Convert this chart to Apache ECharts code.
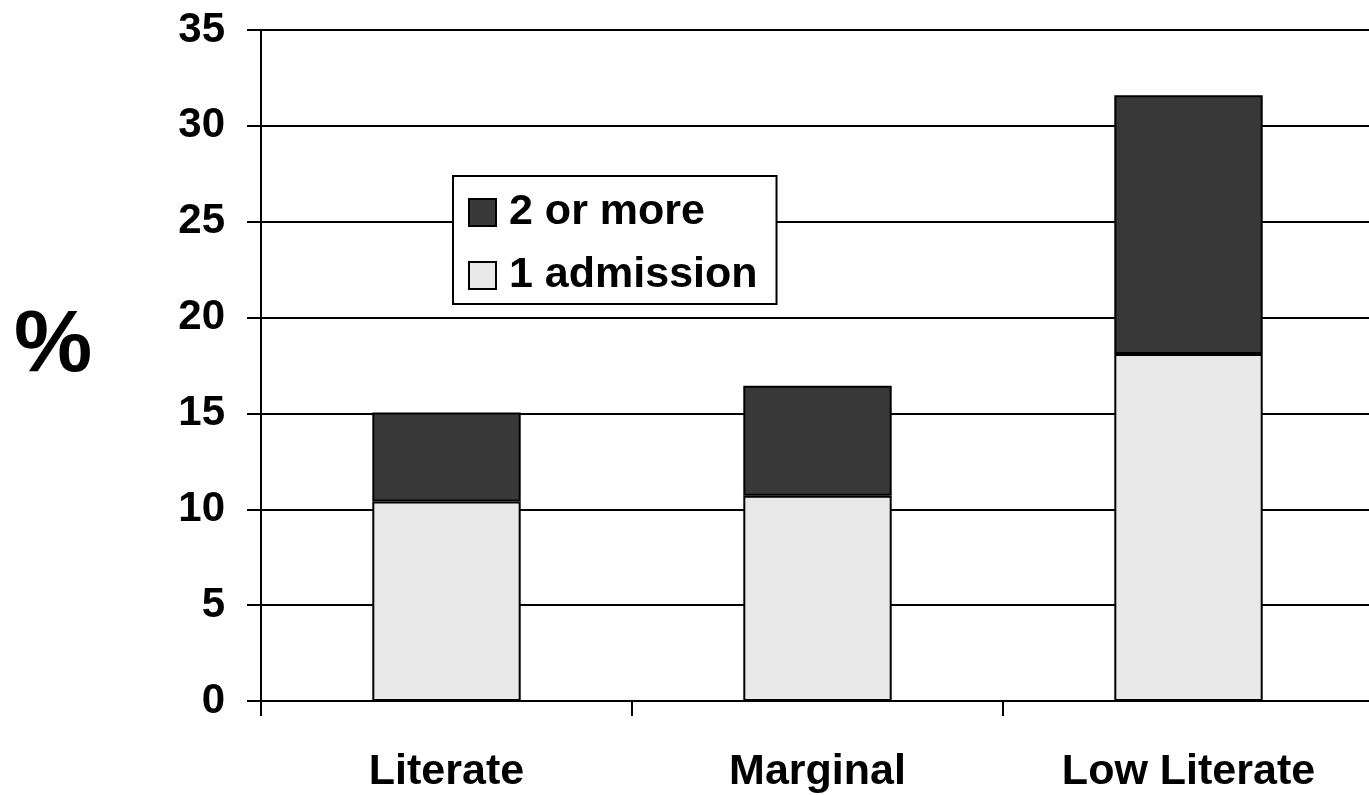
<!DOCTYPE html>
<html>
<head>
<meta charset="utf-8">
<script src="https://cdn.jsdelivr.net/npm/echarts@6/dist/echarts.min.js"></script>
<style>
  html, body { margin: 0; padding: 0; background: #fff; }
  #chart { width: 1369px; height: 795px; }
</style>
</head>
<body>
<div id="chart"></div>
<script>
// Share of patients with hospital admissions, by literacy level
const categories = ['Literate', 'Marginal', 'Low Literate'];
const oneAdmission = [10.4, 10.7, 18.1];
const twoOrMore = [4.65, 5.75, 13.5];
const yTicks = { min: 0, max: 35, interval: 5 };

const FONT = '"Liberation Sans", Arial, Helvetica, sans-serif';

const chart = echarts.init(document.getElementById('chart'));
chart.setOption({
  animation: false,
  backgroundColor: '#ffffff',
  textStyle: { fontFamily: FONT },
  grid: { left: 261, top: 30, width: 1113, bottom: 94, outerBoundsMode: 'none', containLabel: false },
  legend: {
    data: ['2 or more', '1 admission'],
    orient: 'vertical',
    left: 453,
    top: 176,
    padding: [15, 19, 7, 15],
    itemGap: 20,
    itemWidth: 27,
    itemHeight: 27,
    icon: 'rect',
    backgroundColor: '#ffffff',
    borderColor: '#000000',
    borderWidth: 2,
    textStyle: {
      fontFamily: FONT,
      fontSize: 43,
      fontWeight: 'bold',
      color: '#000000',
      padding: [0, 0, 0, 8]
    }
  },
  xAxis: {
    type: 'category',
    data: categories,
    axisLine: { lineStyle: { color: '#000000', width: 2 } },
    axisTick: { show: true, length: 15, lineStyle: { color: '#000000', width: 2 } },
    axisLabel: {
      margin: 50,
      fontFamily: FONT,
      fontSize: 43,
      fontWeight: 'bold',
      color: '#000000'
    }
  },
  yAxis: {
    type: 'value',
    min: yTicks.min,
    max: yTicks.max,
    interval: yTicks.interval,
    axisLine: { show: true, lineStyle: { color: '#000000', width: 2 } },
    axisTick: { show: true, length: 14, lineStyle: { color: '#000000', width: 2 } },
    splitLine: { show: true, lineStyle: { color: '#000000', width: 2 } },
    axisLabel: {
      margin: 36,
      fontFamily: FONT,
      fontSize: 42,
      fontWeight: 'bold',
      color: '#000000'
    }
  },
  graphic: [{
    type: 'text',
    left: 14,
    top: 303,
    style: {
      text: '%',
      fontFamily: FONT,
      fontSize: 88,
      fontWeight: 'bold',
      fill: '#000000'
    }
  }],
  series: [
    {
      name: '1 admission',
      type: 'bar',
      stack: 'total',
      barWidth: '40%',
      data: oneAdmission,
      itemStyle: { color: '#e8e8e8', borderColor: '#000000', borderWidth: 2 }
    },
    {
      name: '2 or more',
      type: 'bar',
      stack: 'total',
      barWidth: '40%',
      data: twoOrMore,
      itemStyle: { color: '#383838', borderColor: '#000000', borderWidth: 2 }
    }
  ]
});
</script>
</body>
</html>
